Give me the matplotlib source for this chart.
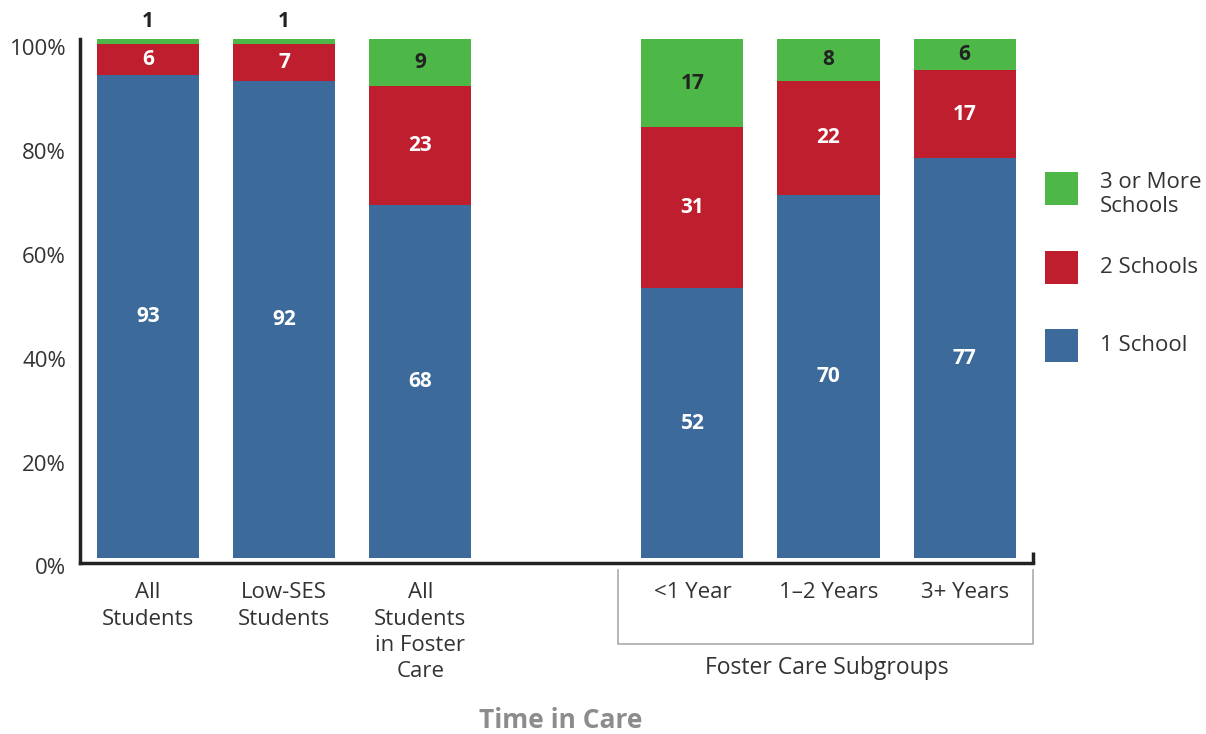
import numpy as np
import matplotlib
matplotlib.use("Agg")
import matplotlib.pyplot as plt
from matplotlib.patches import Rectangle
from matplotlib.transforms import ScaledTranslation, blended_transform_factory

plt.rcParams["font.family"] = ["Open Sans", "DejaVu Sans"]

categories = ["All\nStudents", "Low-SES\nStudents", "All\nStudents\nin Foster\nCare",
              "<1 Year", "1\u20132 Years", "3+ Years"]
positions = [0, 1, 2, 4, 5, 6]
one_school = [93, 92, 68, 52, 70, 77]
two_schools = [6, 7, 23, 31, 22, 17]
three_plus = [1, 1, 9, 17, 8, 6]

series_names = ["1 School", "2 Schools", "3 or More\nSchools"]
colors = ["#3c6a9b", "#be1e2d", "#4db848"]
text_colors = ["white", "white", "#222222"]
y_ticks = [0, 20, 40, 60, 80, 100]

W, H = 1206, 734
fig = plt.figure(figsize=(W / 100, H / 100), dpi=100)
ax = fig.add_axes([0.0663, 0.233, 0.790, 0.7139])

bottom = np.zeros(len(positions))
for vals, col, tcol in zip([one_school, two_schools, three_plus], colors, text_colors):
    vals = np.array(vals, dtype=float)
    ax.bar(positions, vals, width=0.75, bottom=bottom, color=col, linewidth=0)
    for x, b, v in zip(positions, bottom, vals):
        if v < 3:
            # too thin to hold the number, put it above the bar
            ax.annotate(f"{v:.0f}", (x, b + v), xytext=(0, 8.5), textcoords="offset points",
                        ha="center", va="baseline", fontsize=15, fontweight="bold",
                        color="#222222")
        else:
            ax.text(x, b + v / 2, f"{v:.0f}", ha="center", va="center",
                    fontsize=15, fontweight="bold", color=tcol)
    bottom += vals

ax.set_xlim(-0.5, 6.5)
ax.set_ylim(-0.95, 100)
ax.set_yticks(y_ticks)
ax.set_yticklabels([f"{t}%" for t in y_ticks])
ax.set_xticks(positions)
ax.set_xticklabels(categories, linespacing=1.32)
ax.set_xticks([6.5], minor=True)
ax.tick_params(axis="both", which="major", length=0, labelsize=16, colors="#333333")
ax.tick_params(axis="y", pad=10)
ax.tick_params(axis="x", pad=14)
ax.tick_params(axis="x", which="minor", direction="in", length=8, width=2.5, color="#222222")

# labels in the original sit a little below their gridline value
off = ScaledTranslation(0, -6 / 72, fig.dpi_scale_trans)
for lab in ax.get_yticklabels():
    lab.set_transform(lab.get_transform() + off)

for s in ["top", "right"]:
    ax.spines[s].set_visible(False)
for s in ["left", "bottom"]:
    ax.spines[s].set_linewidth(2.5)
    ax.spines[s].set_color("#222222")

# bracket for subgroup bars
tr = blended_transform_factory(ax.transData, ax.transAxes)
ax.plot([3.45, 3.45, 6.5, 6.5], [-0.013, -0.155, -0.155, -0.013], color="#aaaaaa",
        lw=1.2, transform=tr, clip_on=False)
ax.text(4.99, -0.201, "Foster Care Subgroups", transform=tr, ha="center", va="center",
        fontsize=16.5, color="#333333")

fig.text(0.465, 0.0, "Time in Care", ha="center", va="bottom", fontsize=19,
         fontweight="bold", color="#8c8c8c")

# legend, drawn by hand (pixel layout of the original)
legend_top = [172, 251, 329]
box = 33
for top, col, name in zip(legend_top, colors[::-1], series_names[::-1]):
    fig.add_artist(Rectangle((1045 / W, 1 - (top + box) / H), box / W, box / H,
                             transform=fig.transFigure, color=col, lw=0))
    yc = top + box / 2 + (6 if "\n" in name else 0)
    fig.text(1100 / W, 1 - yc / H, name, ha="left", va="center", fontsize=16,
             color="#333333", linespacing=1.2)

fig.savefig("out.png", dpi=100)
